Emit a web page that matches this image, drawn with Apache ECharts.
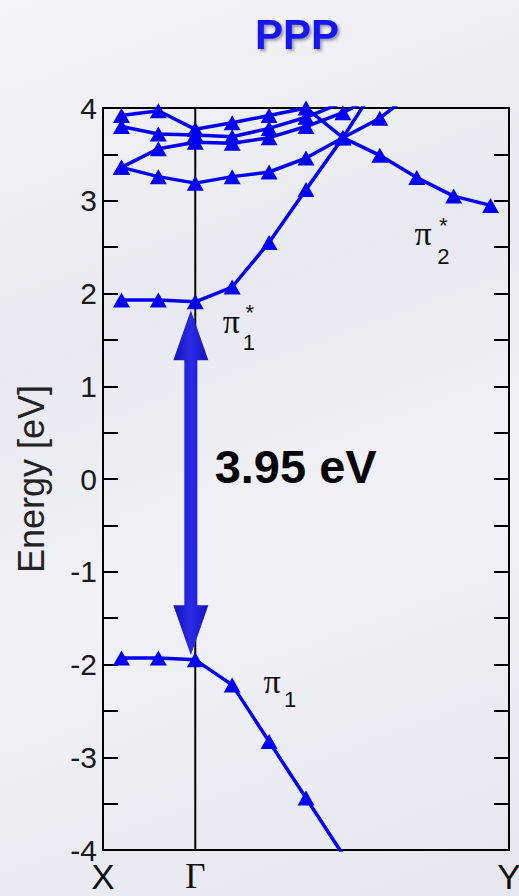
<!DOCTYPE html>
<html><head><meta charset="utf-8">
<script src="https://cdn.jsdelivr.net/npm/echarts@6/dist/echarts.min.js"></script>
<style>
html,body{margin:0;padding:0;}
body{background:#ededf4;background-image:linear-gradient(160deg,#f4f4f9 0%,#e9e9f1 35%,#f1f1f7 60%,#e6e6ef 100%);}
#c{width:519px;height:896px;}
</style>
</head><body><div id="c"></div>
<script>
// k-path sample indices (Γ = 0); X and Y are the path ends
const kPoints = [-2, -1, 0, 1, 2, 3, 4, 5, 6, 7, 8];
const kLabelNames = ['X', 'Γ', 'Y'];
const kLabelPos = [-2.5, 0, 8.5];
const energyMin = -4, energyMax = 4, energyStep = 1;

// band energies (eV) at each k point; null = not sampled / off the plot
const bandPi1     = [-1.93, -1.93, -1.95, -2.22, -2.83, -3.44, -4.05, null, null, null, null];
const bandPi1Star = [ 1.93,  1.93,  1.91,  2.07,  2.55,  3.12,  3.68, 4.30, null, null, null];
const bandB       = [ 3.36,  3.26,  3.19,  3.26,  3.31,  3.46,  3.68, 3.49, 3.25, 3.05, 2.95];
const bandC       = [ 3.92,  3.97,  3.77,  3.84,  3.92,  4.00,  3.68, 3.89, 4.20, null, null];
const bandD       = [ 3.36,  3.56,  3.63,  3.62,  3.68,  3.80,  3.95, 4.15, null, null, null];
const bandE       = [ 3.80,  3.72,  3.71,  3.69,  3.78,  3.90,  4.06, null, null, null, null];

// gap arrow: k position, lower tip, upper tip (eV)
const gapArrow = [[-0.12, -1.90, 1.82]];
const gapText = '3.95 eV';

const BLUE = '#0000f2';
function pairs(vals) {
  const out = [];
  vals.forEach((v, i) => { if (v !== null) out.push([kPoints[i], v]); });
  return out;
}
function bandSeries(name, vals) {
  return {
    name, type: 'line', data: pairs(vals), clip: true, z: 3,
    symbol: 'triangle', symbolSize: [17, 15], showAllSymbol: true,
    itemStyle: { color: BLUE }, lineStyle: { color: BLUE, width: 3.5 },
    emphasis: { disabled: true }, silent: true, animation: false
  };
}

const chart = echarts.init(document.getElementById('c'), null, { renderer: 'svg' });
const tickFont = { fontFamily: 'Liberation Sans', fontSize: 30, color: '#1a1a1a' };

const option = {
  backgroundColor: 'transparent',
  animation: false,
  title: {
    text: 'PPP', left: 250, top: 8,
    textStyle: { fontFamily: 'Liberation Sans', fontWeight: 'bold', fontSize: 42, color: '#1616ee',
      textShadowColor: 'rgba(40,40,60,0.45)', textShadowBlur: 3, textShadowOffsetX: 2, textShadowOffsetY: 2 }
  },
  grid: { left: 103, right: 10, top: 108, bottom: 46, show: true, borderColor: '#000', borderWidth: 2,
          backgroundColor: 'transparent', containLabel: false, outerBoundsMode: 'none' },
  xAxis: {
    type: 'value', min: kLabelPos[0], max: kLabelPos[2], interval: 0.5,
    axisLine: { show: true, onZero: false, lineStyle: { color: '#000', width: 2 } },
    axisTick: { show: false }, splitLine: { show: false },
    axisLabel: {
      margin: 9, fontFamily: 'Liberation Sans', fontSize: 35, color: '#111', showMinLabel: true, showMaxLabel: true,
      formatter: v => {
        const i = kLabelPos.findIndex(p => Math.abs(p - v) < 1e-6);
        if (i < 0) return '';
        return i === 1 ? '{g|' + kLabelNames[i] + '}' : kLabelNames[i];
      },
      rich: { g: { fontFamily: 'Liberation Serif', fontSize: 35, color: '#111' } }
    }
  },
  yAxis: [{
    type: 'value', min: energyMin, max: energyMax, interval: energyStep / 2,
    name: 'Energy [eV]', nameLocation: 'middle', nameGap: 54, nameRotate: 90,
    nameTextStyle: { fontFamily: 'Liberation Sans', fontSize: 36, color: '#222' },
    axisLine: { show: true, onZero: false, lineStyle: { color: '#000', width: 2 } },
    axisTick: { show: true, inside: true, length: 15, lineStyle: { color: '#000', width: 2 } },
    splitLine: { show: false },
    axisLabel: Object.assign({ margin: 6, showMinLabel: true, showMaxLabel: true,
      formatter: v => (Math.abs(v - Math.round(v)) < 1e-6 ? String(Math.round(v)) : '') }, tickFont)
  }, {
    type: 'value', position: 'right', min: energyMin, max: energyMax, interval: energyStep / 2,
    axisLine: { show: true, onZero: false, lineStyle: { color: '#000', width: 2 } },
    axisTick: { show: true, inside: true, length: 15, lineStyle: { color: '#000', width: 2 } },
    axisLabel: { show: false }, splitLine: { show: false }
  }],
  series: [
    { name: 'Gamma', type: 'line', data: [[kLabelPos[1], energyMin], [kLabelPos[1], energyMax]],
      symbol: 'none', lineStyle: { color: '#000', width: 2 }, z: 1, silent: true },
    bandSeries('pi1', bandPi1),
    bandSeries('pi1*', bandPi1Star),
    bandSeries('B', bandB),
    bandSeries('C', bandC),
    bandSeries('D', bandD),
    bandSeries('E', bandE),
    {
      name: 'gap', type: 'custom', data: gapArrow, z: 5, silent: true, clip: false,
      renderItem: (params, api) => {
        const lo = api.coord([api.value(0), api.value(1)]);
        const hi = api.coord([api.value(0), api.value(2)]);
        const cx = lo[0], yb = lo[1], yt = hi[1];
        const hw = 17.5, hh = 50, sw = 6.5;
        const pts = [[cx, yt], [cx + hw, yt + hh], [cx + sw, yt + hh], [cx + sw, yb - hh], [cx + hw, yb - hh],
                     [cx, yb], [cx - hw, yb - hh], [cx - sw, yb - hh], [cx - sw, yt + hh], [cx - hw, yt + hh]];
        return { type: 'polygon', shape: { points: pts },
          style: { fill: new echarts.graphic.LinearGradient(0, 0, 1, 0, [
            { offset: 0, color: '#1212bc' }, { offset: 0.5, color: '#2a2ae6' }, { offset: 1, color: '#1212c0' }]) } };
      }
    }
  ]
};
chart.setOption(option);

// text annotations anchored in data coordinates
const notes = [
  { t: 'π', k: 0.98, e: 1.70, size: 34, serif: true },
  { t: '*', k: 1.48, e: 1.79, size: 22 },
  { t: '1', k: 1.45, e: 1.47, size: 22 },
  { t: 'π', k: 6.17, e: 2.65, size: 34, serif: true },
  { t: '*', k: 6.72, e: 2.73, size: 22 },
  { t: '2', k: 6.72, e: 2.40, size: 22 },
  { t: 'π', k: 2.08, e: -2.18, size: 34, serif: true },
  { t: '1', k: 2.57, e: -2.38, size: 22 }
];
const graphics = notes.map(n => {
  const p = chart.convertToPixel({ gridIndex: 0 }, [n.k, n.e]);
  return { type: 'text', x: p[0], y: p[1], silent: true, z: 10,
    style: { text: n.t, fontSize: n.size, lineHeight: n.size * 0.8, fontFamily: n.serif ? 'Liberation Serif' : 'Liberation Sans',
             fill: '#111', align: 'center', verticalAlign: 'middle' } };
});
const gp = chart.convertToPixel({ gridIndex: 0 }, [2.72, 0.14]);
graphics.push({ type: 'text', x: gp[0], y: gp[1], silent: true, z: 10,
  style: { text: gapText, fontSize: 47, fontWeight: 'bold', fontFamily: 'Liberation Sans',
           fill: '#050505', align: 'center', verticalAlign: 'middle' } });
chart.setOption({ graphic: graphics });
</script>
</body></html>
